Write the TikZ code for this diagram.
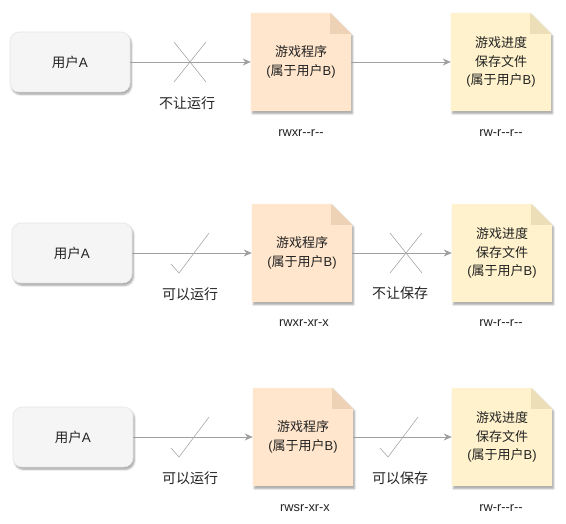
\documentclass[tikz,border=0pt]{standalone}
\usepackage{fontspec}
\setmainfont{Liberation Sans}
\newfontfamily\cjk{Noto Sans CJK SC}
\usetikzlibrary{arrows.meta,shadows.blur}

\definecolor{userfill}{HTML}{F5F5F5}
\definecolor{userline}{HTML}{E6E6E6}
\definecolor{progfill}{HTML}{FFE6CC}
\definecolor{progfold}{HTML}{EDD2B6}
\definecolor{savefill}{HTML}{FFF2CC}
\definecolor{savefold}{HTML}{ECDFB8}
\definecolor{linkgray}{HTML}{A0A0A0}
\definecolor{markgray}{HTML}{A8A8A8}
\definecolor{inkgray}{HTML}{222222}

\tikzset{
  x=1pt, y=-1pt,
  every node/.style={text=inkgray},
  softshadow/.style={blur shadow={shadow xshift=1.5pt, shadow yshift=-2.5pt,
      shadow blur steps=5, shadow blur radius=1.8pt, shadow opacity=35}},
  userbox/.style={rounded corners=9pt, fill=userfill, draw=userline, line width=0.6pt,
    minimum width=120pt, minimum height=60pt, font=\fontsize{13.5}{16}\selectfont,
    softshadow},
  paperbox/.style={draw=none, fill=none, minimum width=100pt, minimum height=98pt},
  papertext/.style={align=center, font=\fontsize{13}{18.5}\selectfont},
  link/.style={draw=linkgray, line width=0.9pt,
    -{Stealth[length=8pt, width=7pt, inset=2.5pt, fill=linkgray]}},
  markline/.style={draw=markgray, line width=0.6pt},
  caption/.style={font=\fontsize{14}{16}\selectfont},
  perm/.style={font=\fontsize{12.8}{14}\selectfont},
}

% folded note sheet over the frame of a named node: #1 node, #2 sheet colour, #3 fold colour
\newcommand\notepaper[3]{%
  \fill[#2, softshadow]
    (#1.north west) -- ([xshift=-21pt]#1.north east) -- ([yshift=-21pt]#1.north east)
    -- (#1.south east) -- (#1.south west) -- cycle;
  \fill[#3] ([xshift=-21pt]#1.north east) -- ([xshift=-21pt,yshift=-21pt]#1.north east)
    -- ([yshift=-21pt]#1.north east) -- cycle;}

% cross mark centred on a named coordinate
\newcommand\denymark[1]{%
  \draw[markline] ([shift={(-16,-20)}]#1) -- ([shift={(16,20)}]#1);
  \draw[markline] ([shift={(16,-20)}]#1) -- ([shift={(-16,20)}]#1);}
% tick mark centred on a named coordinate
\newcommand\allowmark[1]{%
  \draw[markline] ([shift={(-19,11)}]#1) -- ([shift={(-11,20)}]#1) -- ([shift={(19,-20)}]#1);}

\begin{document}
\begin{tikzpicture}
\useasboundingbox (0,0) rectangle (566,524);

% ---------- row 1 ----------
\node[userbox] (u1) at (70,62) {{\cjk 用户}A};
\node[paperbox] (p1) at (301,62) {};
\node[paperbox] (s1) at (501,62) {};
\notepaper{p1}{progfill}{progfold}
\notepaper{s1}{savefill}{savefold}
\node[papertext] (p1t) at (p1) {{\cjk 游戏程序}\\({\cjk 属于用户}B)};
\node[papertext] (s1t) at (s1) {{\cjk 游戏进度}\\{\cjk 保存文件}\\({\cjk 属于用户}B)};
\draw[link] (u1) -- (p1);
\draw[link] (p1) -- (s1);
\coordinate (m1) at (190,62);
\denymark{m1}
\node[caption] (c1) at (187,103) {\cjk 不让运行};
\node[perm] (r1) at (301,133) {rwxr-{}-r-{}-};
\node[perm] (t1) at (501,133) {rw-r-{}-r-{}-};

% ---------- row 2 ----------
\node[userbox] (u2) at (72,253) {{\cjk 用户}A};
\node[paperbox] (p2) at (302,253) {};
\node[paperbox] (s2) at (502,253) {};
\notepaper{p2}{progfill}{progfold}
\notepaper{s2}{savefill}{savefold}
\node[papertext] (p2t) at (p2) {{\cjk 游戏程序}\\({\cjk 属于用户}B)};
\node[papertext] (s2t) at (s2) {{\cjk 游戏进度}\\{\cjk 保存文件}\\({\cjk 属于用户}B)};
\draw[link] (u2) -- (p2);
\draw[link] (p2) -- (s2);
\coordinate (m2) at (190,253);
\allowmark{m2}
\coordinate (n2) at (406,253);
\denymark{n2}
\node[caption] (c2) at (190,294) {\cjk 可以运行};
\node[caption] (d2) at (400,293) {\cjk 不让保存};
\node[perm] (r2) at (304,323) {rwxr-xr-x};
\node[perm] (t2) at (501,323) {rw-r-{}-r-{}-};

% ---------- row 3 ----------
\node[userbox] (u3) at (73,437) {{\cjk 用户}A};
\node[paperbox] (p3) at (303,437) {};
\node[paperbox] (s3) at (502,437) {};
\notepaper{p3}{progfill}{progfold}
\notepaper{s3}{savefill}{savefold}
\node[papertext] (p3t) at (p3) {{\cjk 游戏程序}\\({\cjk 属于用户}B)};
\node[papertext] (s3t) at (s3) {{\cjk 游戏进度}\\{\cjk 保存文件}\\({\cjk 属于用户}B)};
\draw[link] (u3) -- (p3);
\draw[link] (p3) -- (s3);
\coordinate (m3) at (190,437);
\allowmark{m3}
\coordinate (n3) at (399,437);
\allowmark{n3}
\node[caption] (c3) at (190,478) {\cjk 可以运行};
\node[caption] (d3) at (400,478) {\cjk 可以保存};
\node[perm] (r3) at (305,508) {rwsr-xr-x};
\node[perm] (t3) at (501,508) {rw-r-{}-r-{}-};
\end{tikzpicture}
\end{document}
